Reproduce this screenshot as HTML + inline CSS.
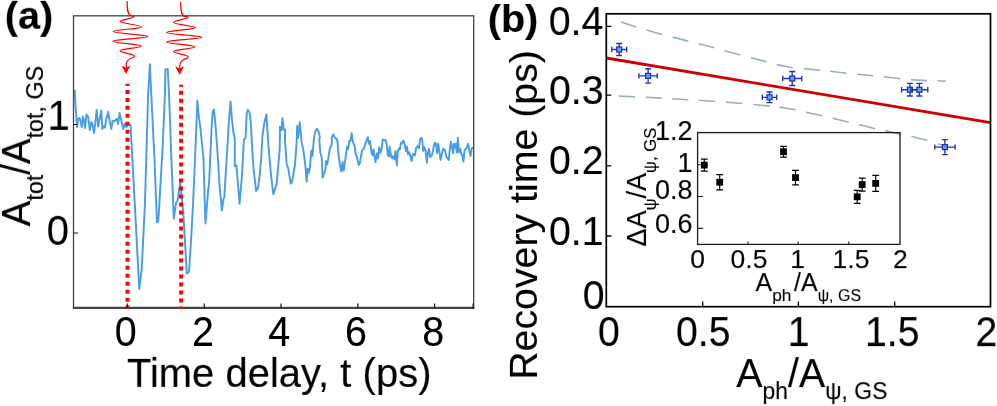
<!DOCTYPE html>
<html lang="en">
<head>
<meta charset="utf-8">
<title>Figure: amplitude dynamics and recovery time</title>
<style>
html,body{margin:0;padding:0;background:#fff;}
body{width:997px;height:406px;overflow:hidden;}
svg{display:block;}
text{font-family:"Liberation Sans", sans-serif;fill:#000;}
.b{font-weight:bold;}
</style>
</head>
<body>
<svg width="997" height="406" viewBox="0 0 997 406">
<defs><filter id="aa" filterUnits="userSpaceOnUse" x="0" y="0" width="997" height="406"><feGaussianBlur stdDeviation="0.45"/></filter><filter id="tb" filterUnits="userSpaceOnUse" x="0" y="0" width="997" height="406"><feGaussianBlur stdDeviation="0.35"/></filter></defs>
<rect width="997" height="406" fill="#fff"/>
<g filter="url(#aa)">

<!-- ================= panel (a) ================= -->
<g id="panel-a">
<!-- waveform -->
<path d="M74.8 90.5 L75.5 106.0 L76.5 118.6 L77.0 127.1 L78.0 119.1 L79.5 118.1 L80.5 121.6 L81.8 127.1 L82.8 116.5 L84.0 120.1 L85.0 128.1 L86.5 114.5 L88.1 116.5 L89.8 130.1 L91.3 122.1 L92.3 123.6 L94.1 133.1 L96.7 110.0 L98.1 126.6 L99.1 121.6 L101.4 110.5 L102.3 129.1 L104.1 126.1 L104.9 127.6 L106.3 119.1 L108.1 112.0 L109.6 121.1 L111.3 129.1 L112.6 120.6 L114.1 121.6 L116.9 118.6 L118.1 124.1 L119.6 113.0 L121.2 120.1 L123.2 129.1 L124.7 123.6 L126.2 127.1 L127.7 125.1 L130.2 124.6 L130.6 126.0 L139.3 289.0 L141.7 269.0 L144.9 205.0 L148.1 95.0 L149.9 64.3 L151.3 95.0 L154.5 159.0 L156.9 222.3 L158.3 221.5 L162.5 150.0 L164.9 95.0 L165.4 69.5 L167.7 69.0 L169.0 93.2 L171.4 159.0 L173.8 218.6 L176.0 203.0 L177.6 200.5 L180.2 182.1 L183.4 214.0 L186.8 273.5 L189.0 272.0 L191.4 234.0 L193.0 205.0 L195.4 150.0 L197.4 100.5 L198.7 116.0 L200.3 127.0 L203.5 159.0 L205.4 223.5 L207.0 205.0 L208.3 188.5 L209.0 184.0 L211.5 130.0 L212.6 112.0 L213.9 109.4 L215.5 125.0 L217.9 158.0 L219.5 185.0 L221.9 210.4 L223.5 199.0 L224.3 197.4 L226.7 158.0 L229.0 120.0 L230.6 101.7 L232.0 120.0 L233.5 133.0 L234.8 138.3 L234.8 166.0 L236.4 165.5 L239.6 203.8 L242.0 175.0 L243.9 139.5 L245.5 138.2 L246.8 112.8 L247.9 109.8 L249.6 112.6 L250.8 123.0 L251.4 134.0 L253.3 166.0 L256.1 190.9 L258.0 188.0 L259.7 175.0 L261.2 158.0 L262.5 135.0 L264.5 122.0 L266.4 114.5 L268.0 140.0 L269.5 158.0 L271.0 175.0 L273.3 194.1 L276.5 184.6 L279.7 150.0 L280.0 126.6 L281.6 130.0 L282.5 118.3 L283.8 130.0 L285.0 129.4 L285.0 140.0 L286.6 163.8 L288.3 168.8 L290.7 183.8 L292.0 182.0 L294.9 165.0 L296.6 143.0 L297.2 126.0 L298.3 137.7 L299.7 122.2 L301.0 135.0 L301.6 142.2 L303.2 148.9 L305.5 166.6 L306.6 181.6 L307.7 168.8 L308.8 172.7 L309.9 167.7 L311.3 150.5 L312.4 156.1 L313.8 140.0 L314.3 136.0 L315.5 131.0 L317.1 128.8 L318.7 132.0 L319.8 137.0 L319.3 140.0 L320.4 153.3 L321.8 157.7 L322.6 177.7 L325.4 169.9 L326.0 161.1 L327.3 164.4 L329.9 148.3 L331.5 145.5 L332.0 140.0 L331.5 138.0 L333.2 134.4 L335.0 138.0 L336.8 138.8 L337.5 142.0 L338.5 155.0 L340.0 165.0 L341.3 171.6 L342.6 162.2 L343.7 170.5 L345.4 158.8 L347.0 146.7 L348.1 149.4 L349.3 141.0 L350.5 141.0 L351.7 133.3 L353.0 142.0 L354.8 146.7 L355.4 153.3 L357.0 157.2 L358.7 164.9 L359.8 163.3 L362.0 150.5 L364.2 147.8 L365.9 142.2 L367.8 137.2 L368.9 143.8 L370.0 141.1 L371.7 153.3 L372.8 155.5 L373.6 149.4 L375.5 162.1 L377.0 153.3 L378.1 158.2 L379.2 147.2 L380.3 152.7 L381.6 149.9 L382.7 139.4 L384.4 140.5 L385.5 140.0 L386.6 143.8 L387.7 154.4 L388.8 156.6 L389.6 146.6 L391.1 156.6 L392.2 158.2 L393.3 156.0 L394.4 159.4 L395.5 151.0 L396.9 165.5 L397.7 152.2 L398.8 148.8 L399.9 149.4 L401.0 142.7 L402.1 143.3 L403.6 140.5 L404.9 145.5 L406.0 151.0 L406.9 146.6 L408.0 154.4 L409.1 152.2 L410.5 156.6 L411.6 161.0 L412.7 153.8 L414.9 155.5 L416.2 147.7 L417.7 146.1 L418.8 148.3 L420.1 139.4 L421.0 137.7 L422.1 138.8 L423.2 151.0 L424.3 147.2 L425.4 149.4 L426.9 162.7 L428.0 152.2 L429.0 148.8 L430.2 157.1 L432.1 154.9 L433.7 146.6 L434.8 142.7 L436.0 143.8 L437.1 153.3 L438.2 143.8 L439.5 152.2 L440.6 159.9 L442.1 153.3 L443.2 148.8 L444.8 149.9 L446.5 157.1 L448.7 159.9 L449.8 149.9 L450.9 141.6 L452.0 146.6 L453.1 153.3 L454.0 143.8 L455.0 147.7 L455.9 143.8 L456.8 152.7 L457.9 137.7 L459.0 152.2 L460.1 148.8 L461.2 153.3 L462.3 155.5 L463.4 161.6 L464.6 149.9 L466.4 148.3 L468.1 143.8 L469.2 149.9 L470.5 156.0 L471.7 148.3 L473.1 147.7" fill="none" stroke="#4a9de6" stroke-width="1.95" stroke-linejoin="round" stroke-linecap="round"/>
<!-- pump pulses dashed lines -->
<!-- frame -->
<rect x="73.5" y="15.8" width="400.2" height="291.9" fill="none" stroke="#444" stroke-width="1.3"/>
<path d="M72.9 307.9H474.3" stroke="#444" stroke-width="2.1" fill="none"/>
<path d="M127.5 83.9V308.6" stroke="#ff0000" stroke-width="4" stroke-dasharray="4 3.99" stroke-dashoffset="2" fill="none"/>
<path d="M181.1 84.7V308.8" stroke="#ff0000" stroke-width="4" stroke-dasharray="4 3.99" stroke-dashoffset="2" fill="none"/>
<path d="M127.4 308v-4.4M204.2 308v-4.4M281 308v-4.4M357.8 308v-4.4M434.6 308v-4.4M473.1 309v-5.4M73.5 124.5h4.6M73.5 233h4.6" stroke="#1a1a1a" stroke-width="1.2" fill="none"/>
<!-- squiggle arrows -->
<path d="M127.1 1.0 C127.1 8.0 127.3 14.5 131.0 15.6 Q134.6 16.0 134.1 16.5 C134.1 18.3 120.0 19.8 120.0 21.6 C120.0 23.4 141.6 25.1 141.6 26.9 C141.6 28.7 113.0 29.8 113.0 31.6 C113.0 33.4 148.1 34.7 148.1 36.5 C148.1 38.3 113.0 39.4 113.0 41.2 C113.0 43.0 141.3 44.2 141.3 46.0 C141.3 47.8 120.0 49.0 120.0 50.8 C120.0 52.6 134.6 54.1 134.6 55.9 C134.6 58.6 126.6 57.6 126.3 64.0 L126.2 68.5" fill="none" stroke="#ff0000" stroke-width="1.2"/>
<path d="M126.0 74.0 L121.5 65.5 L126.0 67.7 L130.5 65.5 Z" fill="#ff0000"/>
<path d="M180.7 1.8 C180.7 8.8 180.9 15.3 184.6 16.4 Q188.2 16.8 187.7 17.3 C187.7 19.1 173.6 20.6 173.6 22.4 C173.6 24.2 195.2 25.9 195.2 27.7 C195.2 29.5 166.6 30.6 166.6 32.4 C166.6 34.2 201.7 35.5 201.7 37.3 C201.7 39.1 166.6 40.2 166.6 42.0 C166.6 43.8 194.9 45.0 194.9 46.8 C194.9 48.6 173.6 49.8 173.6 51.6 C173.6 53.4 188.2 54.9 188.2 56.7 C188.2 59.4 180.2 58.4 179.9 64.8 L179.8 69.3" fill="none" stroke="#ff0000" stroke-width="1.2"/>
<path d="M179.6 74.8 L175.1 66.3 L179.6 68.5 L184.1 66.3 Z" fill="#ff0000"/>
<!-- tick labels -->
</g>

<!-- ================= panel (b) ================= -->
<g id="panel-b">
<!-- confidence bands -->
<path d="M621.1 22.0L636.1 27.1M646.5 30.1L662.2 34.5M672.6 37.1L688.3 41.1M698.7 43.7L714.3 47.7M724.8 50.7L740.4 55.1M750.9 57.7L766.5 61.8M776.9 64.6L792.6 67.8M804.0 68.6L820.1 70.2M830.1 71.2L846.5 73.2M857.2 74.2L873.2 75.8M883.7 76.8L900.3 78.8M910.9 79.8L927.0 80.6M937.4 80.8L945.8 81.2M619.1 96.1L635.1 96.7M645.7 97.3L661.8 98.1M672.2 98.7L688.3 99.7M698.7 100.3L715.3 101.5M726.0 102.1L742.4 103.5M753.5 104.5L769.5 106.1M779.5 107.1L795.6 109.7M806.0 112.2L822.1 115.8M832.7 118.2L848.8 122.2M859.2 124.6L875.2 128.8M885.3 130.6L901.3 134.6M911.4 136.2L927.4 140.5M938.5 144.0L942.5 145.0" stroke="#9aafbe" stroke-width="1.6" fill="none"/>
<!-- fit line -->
<path d="M606.3 58L990.4 122.6" stroke="#cc0000" stroke-width="2.8" fill="none"/>
<!-- data -->
<path d="M611.7 49.5H626.7M619.2 43.5V55.5M611.7 46.8V52.2M626.7 46.8V52.2M616.2 43.5H622.2M616.2 55.5H622.2" stroke="#2233c0" stroke-width="1.35" fill="none"/><rect x="616.7" y="47.0" width="5" height="5" fill="#6a9cf5" stroke="#1c2db8" stroke-width="1.2"/>
<path d="M638.9 75.9H657.3M648.1 68.7V83.1M638.9 73.2V78.6M657.3 73.2V78.6M645.1 68.7H651.1M645.1 83.1H651.1" stroke="#2233c0" stroke-width="1.35" fill="none"/><rect x="645.6" y="73.4" width="5" height="5" fill="#6a9cf5" stroke="#1c2db8" stroke-width="1.2"/>
<path d="M762.3 97.3H776.7M769.5 92.0V102.6M762.3 94.6V100.0M776.7 94.6V100.0M766.5 92.0H772.5M766.5 102.6H772.5" stroke="#2233c0" stroke-width="1.35" fill="none"/><rect x="767.0" y="94.8" width="5" height="5" fill="#6a9cf5" stroke="#1c2db8" stroke-width="1.2"/>
<path d="M782.7 78.5H801.7M792.2 71.5V85.5M782.7 75.8V81.2M801.7 75.8V81.2M789.2 71.5H795.2M789.2 85.5H795.2" stroke="#2233c0" stroke-width="1.35" fill="none"/><rect x="789.7" y="76.0" width="5" height="5" fill="#6a9cf5" stroke="#1c2db8" stroke-width="1.2"/>
<path d="M901.6 89.7H918.2M909.9 83.4V96.0M901.6 87.0V92.4M918.2 87.0V92.4M906.9 83.4H912.9M906.9 96.0H912.9" stroke="#2233c0" stroke-width="1.35" fill="none"/><rect x="907.4" y="87.2" width="5" height="5" fill="#6a9cf5" stroke="#1c2db8" stroke-width="1.2"/>
<path d="M911.0 89.7H927.8M919.4 83.4V96.0M911.0 87.0V92.4M927.8 87.0V92.4M916.4 83.4H922.4M916.4 96.0H922.4" stroke="#2233c0" stroke-width="1.35" fill="none"/><rect x="916.9" y="87.2" width="5" height="5" fill="#6a9cf5" stroke="#1c2db8" stroke-width="1.2"/>
<path d="M934.7 147.1H955.1M944.9 139.6V154.6M934.7 144.4V149.8M955.1 144.4V149.8M941.9 139.6H947.9M941.9 154.6H947.9" stroke="#2233c0" stroke-width="1.35" fill="none"/><rect x="942.4" y="144.6" width="5" height="5" fill="#6a9cf5" stroke="#1c2db8" stroke-width="1.2"/>
<!-- frame -->
<rect x="606.3" y="13.8" width="384.2" height="292.9" fill="none" stroke="#000" stroke-width="1.7"/>
<path d="M606.3 26.3h5M606.3 95.1h5M606.3 165.8h5M606.3 236h5M702.7 306.7v-5.2M798.4 306.7v-5.2M894.7 306.7v-5.2" stroke="#000" stroke-width="1.3" fill="none"/>

<!-- inset -->
<rect x="697.6" y="132.6" width="202.4" height="111.8" fill="none" stroke="#1c1c1c" stroke-width="1.3"/>
<path d="M697.6 164.8h5.5M697.6 196.5h5.5M697.6 228.4h5.5M748 244.4v-3M798.2 244.4v-3M848.8 244.4v-3" stroke="#2a2a2a" stroke-width="1.1" fill="none"/>
<path d="M704.3 159.1V171.1M700.9 159.1H707.7M700.9 171.1H707.7" stroke="#000" stroke-width="1.15" fill="none"/><rect x="700.9" y="161.7" width="6.8" height="6.8" fill="#000"/>
<path d="M719.7 174.6V189.8M716.3 174.6H723.1M716.3 189.8H723.1" stroke="#000" stroke-width="1.15" fill="none"/><rect x="716.3" y="178.8" width="6.8" height="6.8" fill="#000"/>
<path d="M783.5 146.3V157.1M780.1 146.3H786.9M780.1 157.1H786.9" stroke="#000" stroke-width="1.15" fill="none"/><rect x="780.1" y="148.3" width="6.8" height="6.8" fill="#000"/>
<path d="M795.5 170.3V184.9M792.1 170.3H798.9M792.1 184.9H798.9" stroke="#000" stroke-width="1.15" fill="none"/><rect x="792.1" y="174.2" width="6.8" height="6.8" fill="#000"/>
<path d="M857.2 190.3V203.3M853.8 190.3H860.6M853.8 203.3H860.6" stroke="#000" stroke-width="1.15" fill="none"/><rect x="853.8" y="193.4" width="6.8" height="6.8" fill="#000"/>
<path d="M862.2 178.1V191.1M858.8 178.1H865.6M858.8 191.1H865.6" stroke="#000" stroke-width="1.15" fill="none"/><rect x="858.8" y="181.2" width="6.8" height="6.8" fill="#000"/>
<path d="M875.7 175.4V191.4M872.3 175.4H879.1M872.3 191.4H879.1" stroke="#000" stroke-width="1.15" fill="none"/><rect x="872.3" y="180.0" width="6.8" height="6.8" fill="#000"/>
</g>
</g>
<!-- ================= text labels ================= -->
<g filter="url(#tb)">
<g id="labels" transform="rotate(0.02 498.5 203)" stroke="#000" stroke-width="0.12">
<g font-size="39.5" text-anchor="middle">
<text transform="translate(125.8 346.3) scale(1 1.07)">0</text>
<text transform="translate(203 346.3) scale(1 1.07)">2</text>
<text transform="translate(279.4 346.3) scale(1 1.07)">4</text>
<text transform="translate(356 346.3) scale(1 1.07)">6</text>
<text transform="translate(433.2 346.3) scale(1 1.07)">8</text>
</g>
<g font-size="40" text-anchor="end">
<text transform="translate(69.7 129.5) scale(1 1.045)">1</text>
<text transform="translate(69 244.5) scale(1 1.045)">0</text>
</g>
<g font-size="39.3" text-anchor="end">
<text transform="translate(603.4 35.3) scale(1 1.045)">0.4</text>
<text transform="translate(603.6 103.6) scale(1 1.045)">0.3</text>
<text transform="translate(603.6 174.4) scale(1 1.045)">0.2</text>
<text transform="translate(603.6 245.1) scale(1 1.045)">0.1</text>
<text transform="translate(604.6 309.2) scale(1 1.045)">0</text>
</g>
<g font-size="39.3" text-anchor="middle">
<text transform="translate(608.8 346.3) scale(1 1.07)">0</text>
<text transform="translate(703.3 346.3) scale(1 1.07)">0.5</text>
<text transform="translate(798.6 346.3) scale(1 1.07)">1</text>
<text transform="translate(892.3 346.3) scale(1 1.07)">1.5</text>
<text transform="translate(986.5 346.3) scale(1 1.07)">2</text>
</g>
<g font-size="27" text-anchor="end">
<text x="692.5" y="140.1">1.2</text>
<text x="692.5" y="172.2">1</text>
<text x="692.5" y="199.2">0.8</text>
<text x="692.5" y="232.6">0.6</text>
</g>
<g font-size="26.5" text-anchor="middle">
<text x="697.5" y="268.3">0</text>
<text x="749" y="268.3">0.5</text>
<text x="797.5" y="268.3">1</text>
<text x="851" y="268.3">1.5</text>
<text x="900.3" y="268.3">2</text>
</g>
<text class="b" x="4.8" y="29.3" font-size="39.5">(a)</text>
<text x="279.2" y="386.7" font-size="40" text-anchor="middle">Time delay, t (ps)</text>
<text transform="translate(29.8 226.4) rotate(-90) scale(0.96 1)" font-size="40">A<tspan font-size="24.3" dy="13.2">tot</tspan><tspan dy="-13.2">/A</tspan><tspan font-size="24.3" dy="13.2">tot, GS</tspan></text>
<text class="b" x="487.8" y="32" font-size="39.5">(b)</text>
<text x="736.2" y="386.6" font-size="40" transform="translate(736.2 0) scale(0.985 1) translate(-736.2 0)">A<tspan font-size="23.3" dy="12.4">ph</tspan><tspan dy="-12.4">/A</tspan><tspan font-size="23.3" dy="12.4">ψ, GS</tspan></text>
<text transform="translate(536.6 379.8) rotate(-90)" font-size="39.3">Recovery time (ps)</text>
<text x="755.5" y="291.3" font-size="25">A<tspan font-size="17.3" dy="9.5">ph</tspan><tspan dy="-9.5" dx="2.6">/A</tspan><tspan font-size="16" dy="9.5">ψ, GS</tspan></text>
<text transform="translate(645.9 246.4) rotate(-90)" font-size="27">ΔA<tspan font-size="16.7" dy="10">ψ</tspan><tspan dy="-10">/A</tspan><tspan font-size="16.7" dy="10">ψ, GS</tspan></text>
</g>
</g>
</svg>
</body>
</html>
